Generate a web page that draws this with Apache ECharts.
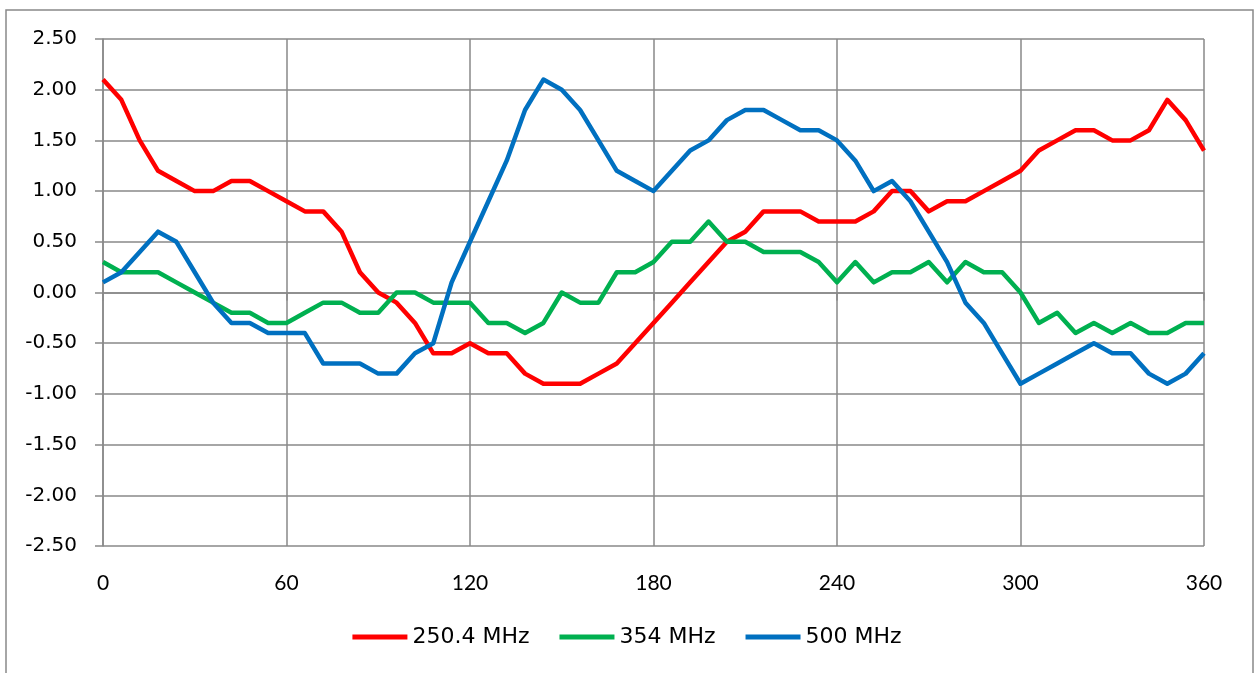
<!DOCTYPE html>
<html>
<head>
<meta charset="utf-8">
<script src="https://cdn.jsdelivr.net/npm/echarts@6/dist/echarts.min.js"></script>
<style>
html,body{margin:0;padding:0;background:#fff;}
#chart{width:1254px;height:673px;}
</style>
</head>
<body>
<div id="chart"></div>
<script>
var angles = [0,6,12,18,24,30,36,42,48,54,60,66,72,78,84,90,96,102,108,114,120,126,132,138,144,150,156,162,168,174,180,186,192,198,204,210,216,222,228,234,240,246,252,258,264,270,276,282,288,294,300,306,312,318,324,330,336,342,348,354,360];
var xTicks = [0,60,120,180,240,300,360];
var yTicks = [-2.5,-2.0,-1.5,-1.0,-0.5,0.0,0.5,1.0,1.5,2.0,2.5];
var seriesNames = ['250.4 MHz','354 MHz','500 MHz'];
var red250 = [2.1,1.9,1.5,1.2,1.1,1.0,1.0,1.1,1.1,1.0,
  0.9,0.8,0.8,0.6,0.2,0.0,-0.1,-0.3,-0.6,-0.6,
  -0.5,-0.6,-0.6,-0.8,-0.9,-0.9,-0.9,-0.8,-0.7,-0.5,
  -0.3,-0.1,0.1,0.3,0.5,0.6,0.8,0.8,0.8,0.7,
  0.7,0.7,0.8,1.0,1.0,0.8,0.9,0.9,1.0,1.1,
  1.2,1.4,1.5,1.6,1.6,1.5,1.5,1.6,1.9,1.7,1.4];
var green354 = [0.3,0.2,0.2,0.2,0.1,0.0,-0.1,-0.2,-0.2,-0.3,
  -0.3,-0.2,-0.1,-0.1,-0.2,-0.2,0.0,0.0,-0.1,-0.1,
  -0.1,-0.3,-0.3,-0.4,-0.3,0.0,-0.1,-0.1,0.2,0.2,
  0.3,0.5,0.5,0.7,0.5,0.5,0.4,0.4,0.4,0.3,
  0.1,0.3,0.1,0.2,0.2,0.3,0.1,0.3,0.2,0.2,
  0.0,-0.3,-0.2,-0.4,-0.3,-0.4,-0.3,-0.4,-0.4,-0.3,-0.3];
var blue500 = [0.1,0.2,0.4,0.6,0.5,0.2,-0.1,-0.3,-0.3,-0.4,
  -0.4,-0.4,-0.7,-0.7,-0.7,-0.8,-0.8,-0.6,-0.5,0.1,
  0.5,0.9,1.3,1.8,2.1,2.0,1.8,1.5,1.2,1.1,
  1.0,1.2,1.4,1.5,1.7,1.8,1.8,1.7,1.6,1.6,
  1.5,1.3,1.0,1.1,0.9,0.6,0.3,-0.1,-0.3,-0.6,
  -0.9,-0.8,-0.7,-0.6,-0.5,-0.6,-0.6,-0.8,-0.9,-0.8,-0.6];

var colors = ['#FF0000','#00B050','#0070C0'];
var values = [red250, green354, blue500];

function pairs(arr){ return angles.map(function(a,i){ return [a, arr[i]]; }); }

var chart = echarts.init(document.getElementById('chart'), null, {renderer:'canvas'});
var gridColor = '#898989';
var fontX = 'Lato, "Liberation Sans", sans-serif';
var fontY = '"DejaVu Sans", sans-serif';

chart.setOption({
  animation: false,
  backgroundColor: '#ffffff',
  graphic: [{
    type: 'rect',
    shape: {x: 6, y: 10, width: 1247, height: 700},
    style: {fill: 'none', stroke: '#898989', lineWidth: 1.5},
    silent: true,
    z: -10
  }],
  grid: {left: 103, right: 50, top: 39, bottom: 127, containLabel: false},
  xAxis: {
    type: 'value',
    min: xTicks[0],
    max: xTicks[xTicks.length-1],
    interval: 60,
    axisLine: {show: true, lineStyle: {color: gridColor, width: 1.5}},
    axisTick: {show: true, length: 8, lineStyle: {color: gridColor, width: 1.5}},
    splitLine: {show: true, lineStyle: {color: gridColor, width: 1.5}},
    axisLabel: {color: '#000', fontFamily: fontX, fontSize: 21, margin: 27}
  },
  yAxis: {
    type: 'value',
    min: yTicks[0],
    max: yTicks[yTicks.length-1],
    interval: 0.5,
    axisLine: {show: true, lineStyle: {color: gridColor, width: 1.5}},
    axisTick: {show: true, length: 8, lineStyle: {color: gridColor, width: 1.5}},
    splitLine: {show: true, lineStyle: {color: gridColor, width: 1.5}},
    axisLabel: {color: '#000', fontFamily: fontY, fontSize: 20, margin: 26,
      formatter: function(v){ return v.toFixed(2); }}
  },
  legend: {
    bottom: 20,
    left: 'center',
    icon: 'rect',
    itemWidth: 55,
    itemHeight: 5,
    itemGap: 30,
    textStyle: {color: '#000', fontFamily: fontY, fontSize: 22},
    data: seriesNames
  },
  series: seriesNames.map(function(n, k){
    return {
      name: n,
      type: 'line',
      data: pairs(values[k]),
      symbol: 'none',
      color: colors[k],
      lineStyle: {width: 4.5, color: colors[k], join: 'round'},
      itemStyle: {color: colors[k]}
    };
  })
});
</script>
</body>
</html>
